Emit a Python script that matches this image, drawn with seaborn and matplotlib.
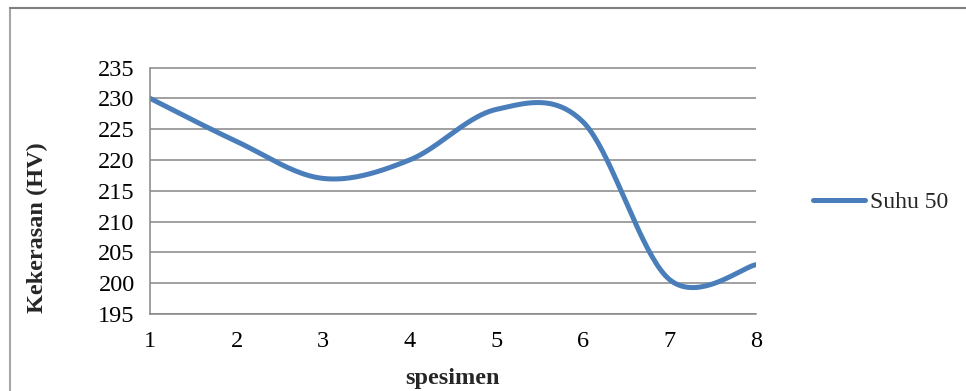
import numpy as np
import pandas as pd
import seaborn as sns
import matplotlib.pyplot as plt
from matplotlib.lines import Line2D

# Chart data
spesimen = [1, 2, 3, 4, 5, 6, 7, 8]
kekerasan = [230, 223, 217, 220, 228.2, 226.2, 200.6, 203]
series_name = 'Suhu 50'
y_ticks = [195, 200, 205, 210, 215, 220, 225, 230, 235]


def excel_smooth(xs, ys, n=40):
    # Excel-style smoothed line: cubic Bezier with Catmull-Rom control points
    xs = np.asarray(xs, float)
    ys = np.asarray(ys, float)
    px = np.concatenate([[xs[0]], xs, [xs[-1]]])
    py = np.concatenate([[ys[0]], ys, [ys[-1]]])
    t = np.linspace(0, 1, n)
    out_x, out_y = [], []
    for i in range(1, len(px) - 2):
        p0 = np.array([px[i], py[i]])
        p3 = np.array([px[i + 1], py[i + 1]])
        c1 = p0 + (np.array([px[i + 1], py[i + 1]]) - np.array([px[i - 1], py[i - 1]])) / 6
        c2 = p3 - (np.array([px[i + 2], py[i + 2]]) - np.array([px[i], py[i]])) / 6
        pts = ((1 - t)[:, None] ** 3 * p0 + 3 * ((1 - t) ** 2 * t)[:, None] * c1
               + 3 * ((1 - t) * t ** 2)[:, None] * c2 + (t ** 3)[:, None] * p3)
        out_x.extend(pts[:, 0])
        out_y.extend(pts[:, 1])
    return out_x, out_y


sx, sy = excel_smooth(spesimen, kekerasan)
df = pd.DataFrame({'spesimen': sx, 'kekerasan': sy})

sns.set_style('white')
plt.rcParams['font.family'] = ['Liberation Serif', 'DejaVu Serif']

line_color = '#4a7ebb'
grid_color = '#868686'

fig = plt.figure(figsize=(9.66, 3.91), dpi=100)
ax = fig.add_axes([150 / 966, 77 / 391, 606 / 966, 246.5 / 391])

sns.lineplot(data=df, x='spesimen', y='kekerasan', sort=False, estimator=None,
             color=line_color, linewidth=3.6, ax=ax, solid_capstyle='round')

ax.set_xlim(1, 8)
ax.set_ylim(195, 235)
ax.set_xticks(spesimen)
ax.set_yticks(y_ticks)
ax.tick_params(axis='both', labelsize=17.5, colors=grid_color, labelcolor='black',
               length=7, width=1, direction='out')
ax.tick_params(axis='x', pad=5)
ax.tick_params(axis='y', pad=4)
ax.yaxis.grid(True, color=grid_color, linewidth=1.1)
ax.xaxis.grid(False)
for side in ['top', 'right']:
    ax.spines[side].set_visible(False)
for side in ['left', 'bottom']:
    ax.spines[side].set_color(grid_color)
    ax.spines[side].set_linewidth(1.1)
ax.set_axisbelow(True)

ax.set_xlabel('spesimen', fontsize=17.5, fontweight='bold', labelpad=12)
ax.set_ylabel('Kekerasan (HV)', fontsize=17.5, fontweight='bold')
# the y label sits lower than the axis centre in the reference
ax.yaxis.set_label_coords(-0.168, 0.35)

handle = Line2D([], [], color=line_color, linewidth=3.6, solid_capstyle='round')
fig.legend([handle], [series_name], loc='center left', bbox_to_anchor=(813 / 966, 1 - 202 / 391),
           frameon=False, fontsize=17, handlelength=2.2, handletextpad=0.2, borderpad=0,
           borderaxespad=0)

# outer chart border (only left and top edges visible in the picture)
fig.add_artist(Line2D([10 / 966, 10 / 966], [0, 1 - 8 / 391], color='#a6a6a6', linewidth=1.5,
                      transform=fig.transFigure))
fig.add_artist(Line2D([10 / 966, 1], [1 - 8 / 391, 1 - 8 / 391], color='#7f7f7f', linewidth=1.5,
                      transform=fig.transFigure))

plt.savefig('out.png', dpi=100)
